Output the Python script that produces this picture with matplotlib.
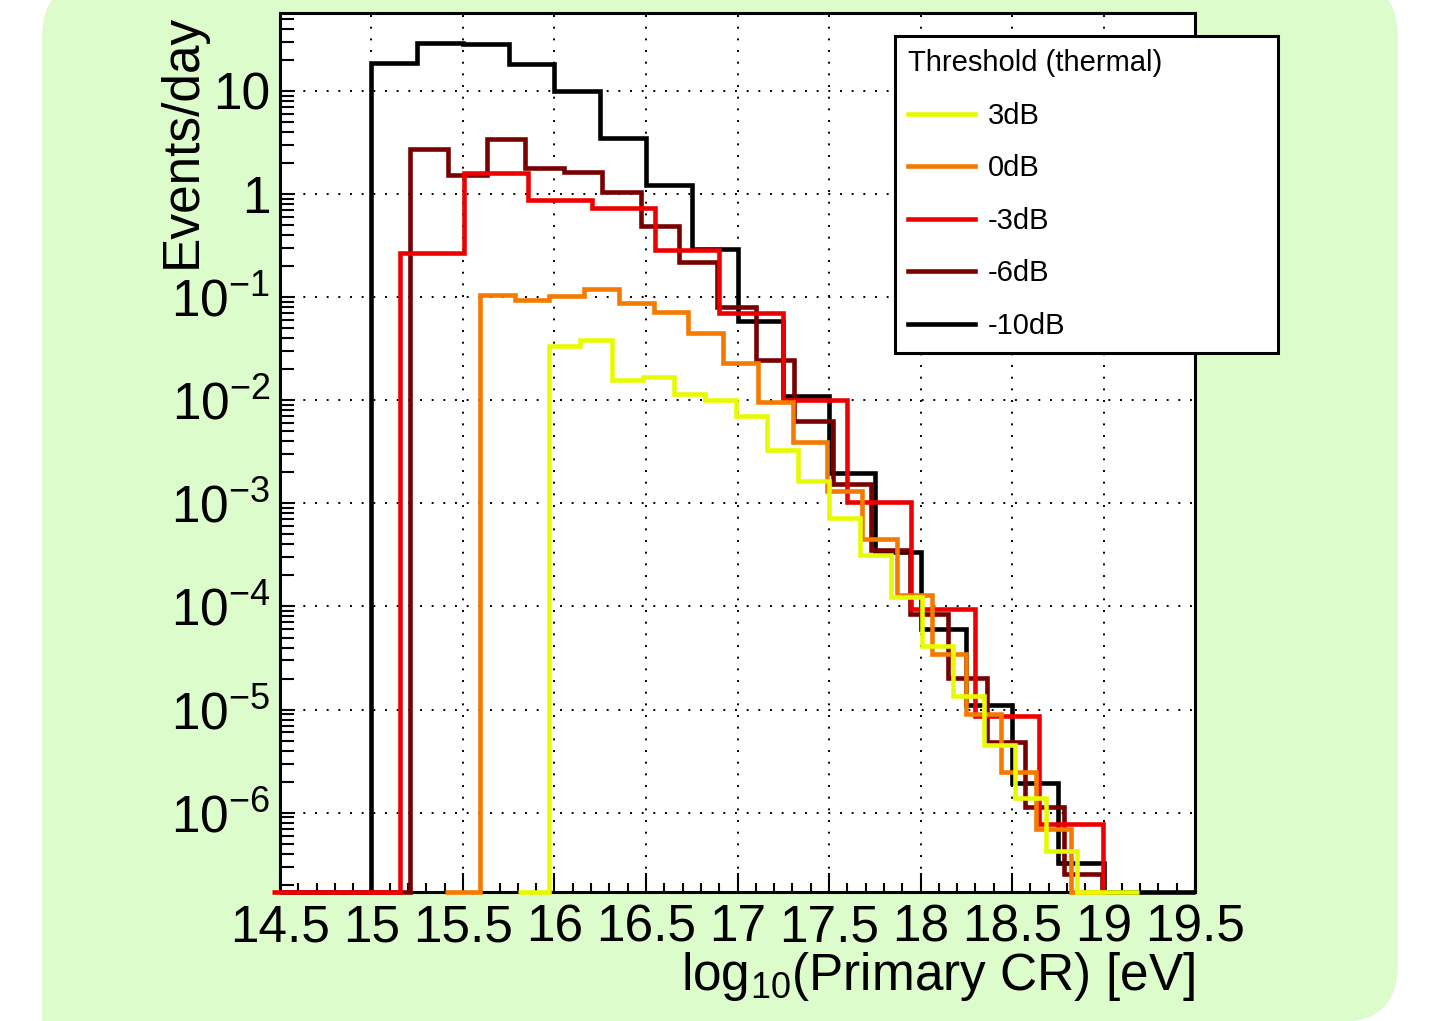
import numpy as np
import matplotlib
matplotlib.use("Agg")
import matplotlib.pyplot as plt
from matplotlib.patches import FancyBboxPatch, Rectangle
from matplotlib.lines import Line2D
from matplotlib.ticker import (MultipleLocator, LogLocator, FixedLocator,
                               FuncFormatter, NullFormatter)

plt.rcParams["font.family"] = ["Liberation Sans", "DejaVu Sans"]
plt.rcParams["mathtext.fontset"] = "custom"
plt.rcParams["mathtext.rm"] = "Liberation Sans"
plt.rcParams["mathtext.it"] = "Liberation Sans:italic"
plt.rcParams["mathtext.bf"] = "Liberation Sans:bold"

# histogram binning like ROOT TH1: (low edge, high edge, number of bins)
# and bin contents in events/day
labels = ["3dB", "0dB", "-3dB", "-6dB", "-10dB"]
colors = ["#e6fa00", "#f57a00", "#ee0000", "#780000", "#000000"]

bins_3db = (15.803, 19.193, 20)
events_3db = [0, 0.0333, 0.0381, 0.0158, 0.0168, 0.0116, 0.0100, 0.00699,
              0.00332, 0.00164, 7.2e-4, 3.18e-4, 1.24e-4, 4.16e-5, 1.36e-5,
              4.56e-6, 1.40e-6, 4.25e-7, 0, 0]

bins_0db = (15.402, 19.011, 19)
events_0db = [0, 0.105, 0.0944, 0.103, 0.120, 0.0877, 0.0711, 0.0449, 0.0230,
              0.00962, 0.00391, 0.00133, 4.53e-4, 1.29e-4, 3.43e-5, 9.1e-6,
              2.47e-6, 7.0e-7, 0]

bins_m3db = (14.456, 18.997, 13)
events_m3db = [0, 0, 0.267, 1.60, 0.879, 0.740, 0.284, 0.0702, 0.0100,
               0.00103, 9.5e-5, 8.6e-6, 7.7e-7]

bins_m6db = (14.999, 18.992, 19)
events_m6db = [0, 2.74, 1.53, 3.41, 1.78, 1.63, 1.04, 0.495, 0.22, 0.081,
               0.0244, 0.00634, 0.00155, 3.54e-4, 8.5e-5, 2.02e-5, 4.85e-6,
               1.14e-6, 2.57e-7]

bins_m10db = (14.5, 19.5, 20)
events_m10db = [0, 0, 18.8, 29.4, 28.5, 18.1, 10.0, 3.53, 1.23, 0.29, 0.059,
                0.0109, 0.00195, 3.36e-4, 6.0e-5, 1.12e-5, 1.94e-6, 3.28e-7,
                0, 0]

all_bins = [bins_3db, bins_0db, bins_m3db, bins_m6db, bins_m10db]
all_events = [events_3db, events_0db, events_m3db, events_m6db, events_m10db]

x_min, x_max = 14.5, 19.5
y_min, y_max = 1.70e-7, 56.4
y_decades = [1e-6, 1e-5, 1e-4, 1e-3, 1e-2, 1e-1, 1, 10]

fig = plt.figure(figsize=(14.41, 10.21), dpi=100)
fig.patch.set_facecolor("white")

# light green slide background (rounded on the right, square bottom-left)
bg = "#ddfccc"
fig.patches.append(FancyBboxPatch((0.42, -0.01), 13.56, 10.42,
                                  boxstyle="round,pad=0,rounding_size=0.58",
                                  transform=fig.dpi_scale_trans,
                                  facecolor=bg, edgecolor="none", zorder=-2))
fig.patches.append(Rectangle((0.42, -0.01), 1.5, 1.5, transform=fig.dpi_scale_trans,
                             facecolor=bg, edgecolor="none", zorder=-2))

ax = fig.add_axes([0.1943, 0.1263, 0.635, 0.8605])
ax.set_facecolor("white")

# draw -10dB first, 3dB last (3dB ends up on top)
handles = []
for lab, col, b, ev in zip(labels[::-1], colors[::-1], all_bins[::-1], all_events[::-1]):
    edges = np.linspace(b[0], b[1], b[2] + 1)
    ev = np.asarray(ev, dtype=float)
    vals = np.where(ev > 0, ev, y_min)
    ax.stairs(vals, edges, baseline=y_min, color=col, linewidth=3.3,
              zorder=3, clip_on=False)
    handles.append(Line2D([], [], color=col, linewidth=3.3, label=lab))
handles = handles[::-1]

ax.set_yscale("log")
ax.set_xlim(x_min, x_max)
ax.set_ylim(y_min, y_max)

ax.xaxis.set_major_locator(MultipleLocator(0.5))
ax.xaxis.set_minor_locator(MultipleLocator(0.1))
ax.xaxis.set_major_formatter(FuncFormatter(lambda v, p: f"{v:g}"))
ax.yaxis.set_major_locator(FixedLocator(y_decades))
ax.yaxis.set_minor_locator(LogLocator(base=10, subs=np.arange(2, 10), numticks=20))
ax.yaxis.set_minor_formatter(NullFormatter())


def log_label(v, pos):
    e = int(round(np.log10(v)))
    if e == 1:
        return "10"
    if e == 0:
        return "1"
    return r"$10^{\mathregular{-%d}}$" % (-e)


ax.yaxis.set_major_formatter(FuncFormatter(log_label))

ax.tick_params(which="both", direction="in", top=False, right=False,
               width=1.5, labelsize=37)
ax.tick_params(axis="x", which="major", length=14, pad=8)
ax.tick_params(axis="x", which="minor", length=6.5)
ax.tick_params(axis="y", which="major", length=11, pad=7)
ax.tick_params(axis="y", which="minor", length=10)

for sp in ax.spines.values():
    sp.set_linewidth(2.2)

ax.grid(True, which="major", color="black", linestyle=(0, (1, 5)), linewidth=1.4)

ax.set_xlabel(r"log$_{\mathregular{10}}$(Primary CR) [eV]", fontsize=37, loc="right")
ax.xaxis.set_label_coords(1.0, -0.066)
ax.set_ylabel("Events/day", fontsize=37, loc="top")
ax.yaxis.set_label_coords(-0.08, 1.0)

leg = ax.legend(handles=handles, title="Threshold (thermal)", fontsize=21,
                title_fontsize=21, loc="upper left",
                bbox_to_anchor=(0.672, 0.6147, 0.4187, 0.3593), mode="expand",
                borderaxespad=0, borderpad=0.45, labelspacing=0.84,
                handlelength=2.3, handletextpad=0.45, fancybox=False,
                edgecolor="black", framealpha=1, alignment="left")
leg.get_frame().set_linewidth(2.2)
leg.set_zorder(5)

fig.savefig("out.png", dpi=100)
